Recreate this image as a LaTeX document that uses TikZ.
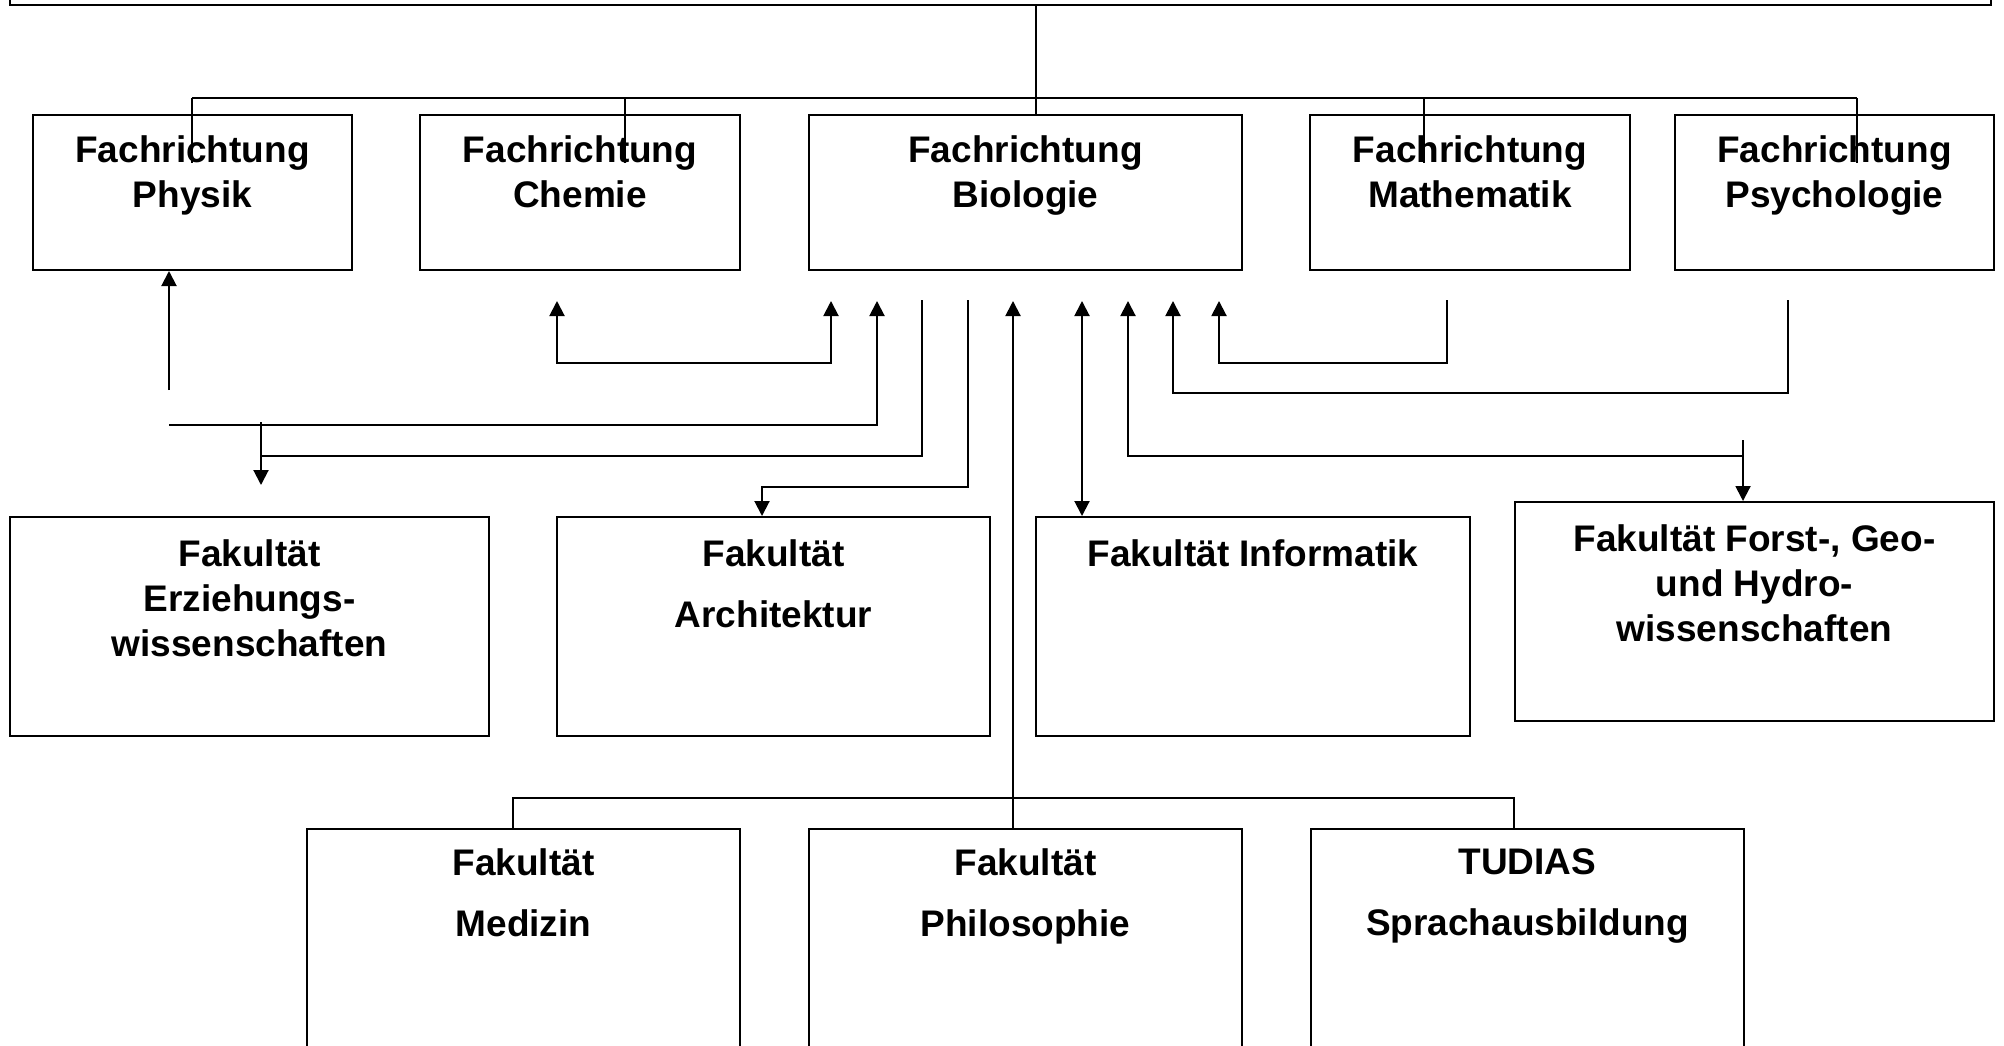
\documentclass[tikz,border=0pt]{standalone}
\usepackage{fontspec}
\setmainfont{Liberation Sans}
\usetikzlibrary{arrows.meta}
\begin{document}
\begin{tikzpicture}[x=1pt,y=-1pt,
  box/.style={draw, line width=2pt, rectangle, inner sep=0pt},
  lbl/.style={font=\fontsize{37}{45}\selectfont\bfseries, align=center, inner sep=0pt, anchor=north},
  conn/.style={line width=2pt},
  arrowend/.style={-{Triangle[length=15pt,width=15pt]}},
  arrowboth/.style={{Triangle[length=15pt,width=15pt]}-{Triangle[length=15pt,width=15pt]}}]
\useasboundingbox (0,0) rectangle (2004,1045);
\clip (0,0) rectangle (2004,1045);
\fill[white] (0,0) rectangle (2004,1045);

% boxes
\node[box, minimum width=1981pt, minimum height=100pt] (top) at (1000.5,-45) {};
\node[box, minimum width=319pt, minimum height=155pt] (phys) at (192.5,192.5) {};
\node[box, minimum width=320pt, minimum height=155pt] (chem) at (580,192.5) {};
\node[box, minimum width=433pt, minimum height=155pt] (bio) at (1025.5,192.5) {};
\node[box, minimum width=320pt, minimum height=155pt] (math) at (1470,192.5) {};
\node[box, minimum width=319pt, minimum height=155pt] (psy) at (1834.5,192.5) {};
\node[box, minimum width=479pt, minimum height=219pt] (erz) at (249.5,626.5) {};
\node[box, minimum width=433pt, minimum height=219pt] (arch) at (773.5,626.5) {};
\node[box, minimum width=434pt, minimum height=219pt] (inf) at (1253,626.5) {};
\node[box, minimum width=479pt, minimum height=219pt] (forst) at (1754.5,611.5) {};
\node[box, minimum width=433pt, minimum height=260pt] (med) at (523.5,959) {};
\node[box, minimum width=433pt, minimum height=260pt] (phil) at (1025.5,959) {};
\node[box, minimum width=433pt, minimum height=260pt] (tud) at (1527.5,959) {};

% labels
\node[lbl] (physT) at (192.5,135.5) {Fachrichtung\\Physik};
\node[lbl] (chemT) at (580,135.5) {Fachrichtung\\Chemie};
\node[lbl] (bioT) at (1025.5,135.5) {Fachrichtung\\Biologie};
\node[lbl] (mathT) at (1470,135.5) {Fachrichtung\\Mathematik};
\node[lbl] (psyT) at (1834.5,135.5) {Fachrichtung\\Psychologie};
\node[lbl] (erzT) at (249.5,539.5) {Fakultät\\Erziehungs-\\wissenschaften};
\node[lbl] (archT) at (773.5,539.5) {Fakultät\\[16pt]Architektur};
\node[lbl] (infT) at (1253,539.5) {Fakultät Informatik};
\node[lbl] (forstT) at (1754.5,524) {Fakultät Forst-, Geo-\\und Hydro-\\wissenschaften};
\node[lbl] (medT) at (523.5,848) {Fakultät\\[16.5pt]Medizin};
\node[lbl] (philT) at (1025.5,848) {Fakultät\\[16.5pt]Philosophie};
\node[lbl] (tudT) at (1527.5,848) {TUDIAS\\[16.5pt]Sprachausbildung};

% organisation bus
\coordinate (bus) at (0,98);
\coordinate (cv) at (1036,98);
\coordinate (d1) at (192,163);
\coordinate (d2) at (625,163);
\coordinate (d3) at (1424,163);
\coordinate (d4) at (1857,163);
\draw[conn] (cv |- top.south) -- (cv |- bio.north);
\draw[conn] (d1 |- bus) -- (d4 |- bus);
\foreach \d in {d1,d2,d3,d4} \draw[conn] (\d |- bus) -- (\d);

% Physik
\coordinate (p1) at (169,390);
\draw[conn,arrowend] (p1) -- (p1 |- phys.south);
\coordinate (p2) at (169,425);
\coordinate (bA) at (877,301);
\draw[conn,arrowend] (p2) -| (bA);

% Chemie loop
\coordinate (cA) at (557,301);
\coordinate (cB) at (831,301);
\coordinate (cy) at (0,363);
\draw[conn,arrowboth] (cA) -- (cA |- cy) -- (cB |- cy) -- (cB);

% to Erziehungswissenschaften
\coordinate (bB) at (922,300);
\coordinate (e1) at (261,456);
\draw[conn] (bB) |- (e1);
\coordinate (e0) at (261,422);
\coordinate (e2) at (261,485);
\draw[conn,arrowend] (e0) -- (e2);

% to Architektur
\coordinate (bC) at (968,300);
\coordinate (a1) at (762,487);
\draw[conn,arrowend] (bC) |- (a1) -- (a1 |- arch.north);

% long vertical from bottom row
\coordinate (lv) at (1013,301);
\draw[conn,arrowend] (lv |- phil.north) -- (lv);
\coordinate (m1) at (513,798);
\coordinate (t1) at (1514,798);
\draw[conn] (m1 |- med.north) -- (m1) -- (t1) -- (t1 |- tud.north);

% Informatik
\coordinate (iA) at (1082,301);
\draw[conn,arrowboth] (iA) -- (iA |- inf.north);

% Forst
\coordinate (bD) at (1128,301);
\coordinate (f1) at (1743,456);
\draw[conn,arrowend] (f1) -| (bD);
\coordinate (f0) at (1743,440);
\draw[conn,arrowend] (f0) -- (f0 |- forst.north);

% Psychologie
\coordinate (bE) at (1173,301);
\coordinate (s1) at (1788,300);
\coordinate (sy) at (0,393);
\draw[conn,arrowend] (s1) -- (s1 |- sy) -| (bE);

% Mathematik
\coordinate (bF) at (1219,301);
\coordinate (q1) at (1447,300);
\coordinate (qy) at (0,363);
\draw[conn,arrowend] (q1) -- (q1 |- qy) -| (bF);
\end{tikzpicture}
\end{document}
